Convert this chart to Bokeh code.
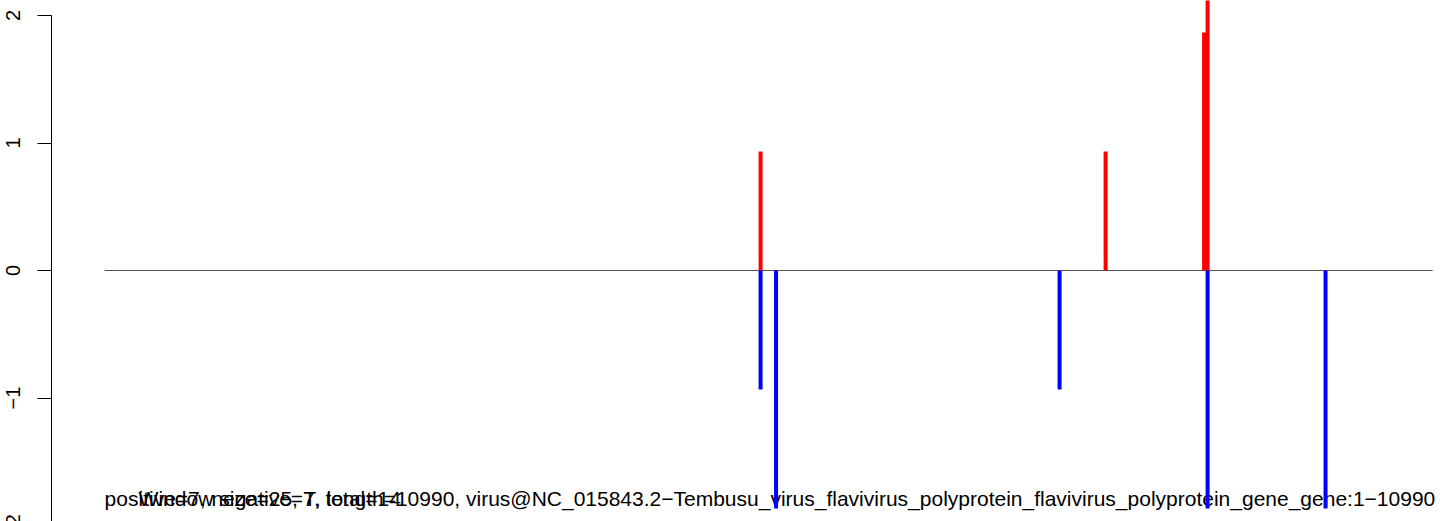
import numpy as np
from bokeh.plotting import figure
from bokeh.layouts import row
from bokeh.models import Range1d, FixedTicker
from bokeh.embed import file_html
from bokeh.resources import INLINE
from bokeh.core.properties import value

# ---- data ----
genome_length = 10990
pos_positions = [5429, 8284, 9099, 9128]
pos_values = [0.933, 0.933, 1.867, 2.8]
neg_positions = [5429, 5557, 7903, 9128, 10104]
neg_values = [-0.933, -1.867, -0.933, -1.867, -1.867]
y_ticks = [-2, -1, 0, 1, 2]
y_tick_labels = ["\u22122", "\u22121", "0", "1", "2"]
caption_main = ("positive=7, negative=7, length=10990, virus@NC_015843.2\u2212Tembusu_virus_flavivirus_polyprotein_"
                "flavivirus_polyprotein_gene_gene:1\u221210990")
caption_overlay = "Window size=25, T, total=14"

FONT = "Liberation Sans"

# ---- layout ----
W, H = 1444, 521
label_w = 37          # strip holding the y tick labels
tick_len = 14
main_w = W - label_w
frame_w = main_w - tick_len
pad = 0.04 * (genome_length - 1)
x_lo = 1 - pad
px_per_unit = 1328.0 / (genome_length - 1)
x_hi = x_lo + frame_w / px_per_unit
y_px = 127.5
y_top = 270 / y_px
y_bot = (270 - H) / y_px

# label strip (R-style labels parallel to the axis)
lab = figure(width=label_w, height=H, output_backend="svg", toolbar_location=None,
             x_range=Range1d(0, label_w), y_range=Range1d(y_bot, y_top),
             min_border_left=0, min_border_right=0, min_border_top=0, min_border_bottom=0)
lab.axis.visible = False
lab.grid.visible = False
lab.outline_line_color = None
lab.background_fill_color = "white"
lab.border_fill_color = "white"
lab.text(x=[12] * len(y_ticks), y=y_ticks, text=y_tick_labels, angle=np.pi / 2,
         text_font=value(FONT), text_font_size="20px", text_color="black",
         text_align="center", text_baseline="middle")

p = figure(width=main_w, height=H, output_backend="svg", toolbar_location=None,
           x_range=Range1d(x_lo, x_hi), y_range=Range1d(y_bot, y_top),
           min_border_left=tick_len, min_border_right=0,
           min_border_top=0, min_border_bottom=0)
p.xaxis.visible = False
p.grid.visible = False
p.outline_line_color = None
p.background_fill_color = "white"
p.border_fill_color = "white"

ax = p.yaxis[0]
ax.ticker = FixedTicker(ticks=y_ticks)
ax.major_label_overrides = {t: "" for t in y_ticks}
ax.major_label_standoff = 0
ax.major_tick_out = tick_len
ax.major_tick_in = 0
ax.minor_tick_line_color = None
ax.axis_line_color = "black"
ax.major_tick_line_color = "black"
ax.bounds = (-2, 2)

# zero line
p.segment(x0=[1], x1=[genome_length], y0=[0], y1=[0], line_color="#555555", line_width=1)

# captions (drawn under the bars)
cap_y = -1.79
p.text(x=[1], y=[cap_y], text=[caption_main], text_font=value(FONT), text_font_size="21px",
       text_baseline="middle", text_align="left", text_color="black")
p.text(x=[1 + 34 / px_per_unit], y=[cap_y], text=[caption_overlay], text_font=value(FONT),
       text_font_size="21px", text_baseline="middle", text_align="left", text_color="black")

# bars
p.segment(x0=pos_positions, x1=pos_positions, y0=[0] * len(pos_values), y1=pos_values,
          line_color="red", line_width=4, line_cap="butt")
p.segment(x0=neg_positions, x1=neg_positions, y0=[0] * len(neg_values), y1=neg_values,
          line_color="blue", line_width=4, line_cap="butt")

layout = row(lab, p, spacing=0)
open("out.html", "w").write(file_html(layout, INLINE))
